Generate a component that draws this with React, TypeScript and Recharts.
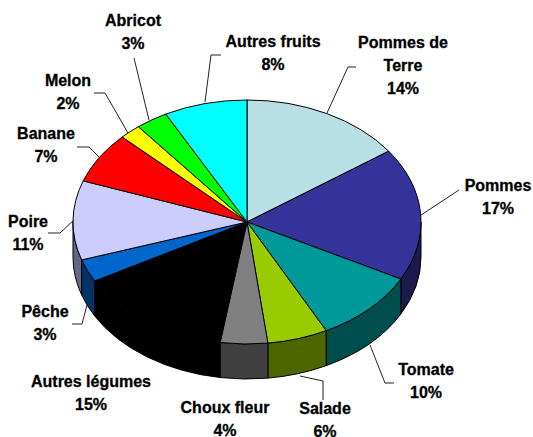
import { PieChart, Pie } from 'recharts';

const names = ['Pommes de|Terre', 'Pommes', 'Tomate', 'Salade', 'Choux fleur', 'Autres légumes', 'Pêche', 'Poire', 'Banane', 'Melon', 'Abricot', 'Autres fruits'];
const shares = [14.49, 17.49, 10.1, 5.9, 4.49, 14.5, 3, 10.5, 6.8, 2, 3, 7.73];
const topColors = ['#B8DFE3', '#333399', '#009999', '#99CC00', '#808080', '#000000', '#0066CC', '#CCCCFF', '#FF0000', '#FFFF00', '#00FF00', '#00FFFF'];
const wallColors = ['#5C7072', '#1A1A4D', '#004D4D', '#4D6600', '#404040', '#000000', '#003366', '#666680', '#800000', '#808000', '#008000', '#008080'];

// label text centre x, first line y, then leader line points
const labelSpots = [
  { x: 403, y: 48, leader: '327,113 348,67 356,67' },
  { x: 498, y: 191, leader: '421,215 459,190' },
  { x: 426, y: 375, leader: '370,345 385,383 394,383' },
  { x: 325, y: 414, leader: '300,376 323,381 323,400' },
  { x: 225, y: 413, leader: '' },
  { x: 91, y: 387, leader: '' },
  { x: 45, y: 317, leader: '87,305 82,324 72,324' },
  { x: 28, y: 227, leader: '74,220 60,233 48,233' },
  { x: 46, y: 139, leader: '100,158 89,147 77,147' },
  { x: 68, y: 86, leader: '128,133 105,93 94,93' },
  { x: 133, y: 26, leader: '149,120 134,58' },
  { x: 273, y: 47, leader: '205,102 211,55 221,55' },
];

const data = names.map((name, i) => ({ name, value: shares[i] }));

const CX = 247;
const CY = 222;
const RX = 174;
const RY = 122;
const DEPTH = 35;
const LINE = 23;

// the original has some perspective, right side slices look a bit wider
const warp = (deg: number) => {
  const c = Math.cos((deg * Math.PI) / 180);
  return c > 0 ? deg - 3 * c : deg;
};

const pt = (deg: number, dy = 0) => {
  const a = (deg * Math.PI) / 180;
  return { x: CX + RX * Math.cos(a), y: CY - RY * Math.sin(a) + dy };
};

// top face, the library's angles squashed to an ellipse
const TopSlice = (props: any) => {
  const { startAngle, endAngle, index } = props;
  const a = pt(warp(startAngle));
  const b = pt(warp(endAngle));
  const large = Math.abs(startAngle - endAngle) > 180 ? 1 : 0;
  return (
    <path
      d={`M${CX},${CY} L${a.x},${a.y} A${RX},${RY} 0 ${large} 1 ${b.x},${b.y} Z`}
      fill={topColors[index]}
      stroke="#000"
      strokeWidth={1}
    />
  );
};

// side wall, only the part on the front half of the pie
const WallSlice = (props: any) => {
  const { startAngle, endAngle, index } = props;
  const from = Math.min(warp(startAngle), 0);
  const to = Math.max(warp(endAngle), -180);
  if (from <= to) return <g />;
  const a = pt(from);
  const b = pt(to);
  const c = pt(to, DEPTH);
  const d = pt(from, DEPTH);
  return (
    <path
      d={`M${a.x},${a.y} A${RX},${RY} 0 0 1 ${b.x},${b.y} L${c.x},${c.y} A${RX},${RY} 0 0 0 ${d.x},${d.y} Z`}
      fill={wallColors[index]}
      stroke="#000"
      strokeWidth={1}
    />
  );
};

const SliceLabel = (props: any) => {
  const i = props.index;
  const spot = labelSpots[i];
  const lines = [...names[i].split('|'), `${Math.round(shares[i])}%`];
  return (
    <g>
      {spot.leader && <polyline points={spot.leader} fill="none" stroke="#222" strokeWidth={1} />}
      <text
        x={spot.x}
        textAnchor="middle"
        fontFamily="Liberation Sans"
        fontWeight="bold"
        fontSize={16}
        fill="#000"
        stroke="#000"
        strokeWidth={0.3}
      >
        {lines.map((line, n) => (
          <tspan key={n} x={spot.x} y={spot.y + n * LINE}>
            {line}
          </tspan>
        ))}
      </text>
    </g>
  );
};

export default function App() {
  return (
    <div style={{ position: 'absolute', left: 0, top: 0, width: 533, height: 437 }}>
      <PieChart width={533} height={437} margin={{ top: 0, right: 0, bottom: 0, left: 0 }}>
        <Pie
          data={data}
          dataKey="value"
          cx={CX}
          cy={CY}
          outerRadius={RX}
          startAngle={90}
          endAngle={-270}
          shape={WallSlice}
          isAnimationActive={false}
        />
        <Pie
          data={data}
          dataKey="value"
          cx={CX}
          cy={CY}
          outerRadius={RX}
          startAngle={90}
          endAngle={-270}
          shape={TopSlice}
          label={SliceLabel}
          labelLine={false}
          isAnimationActive={false}
        />
      </PieChart>
    </div>
  );
}
